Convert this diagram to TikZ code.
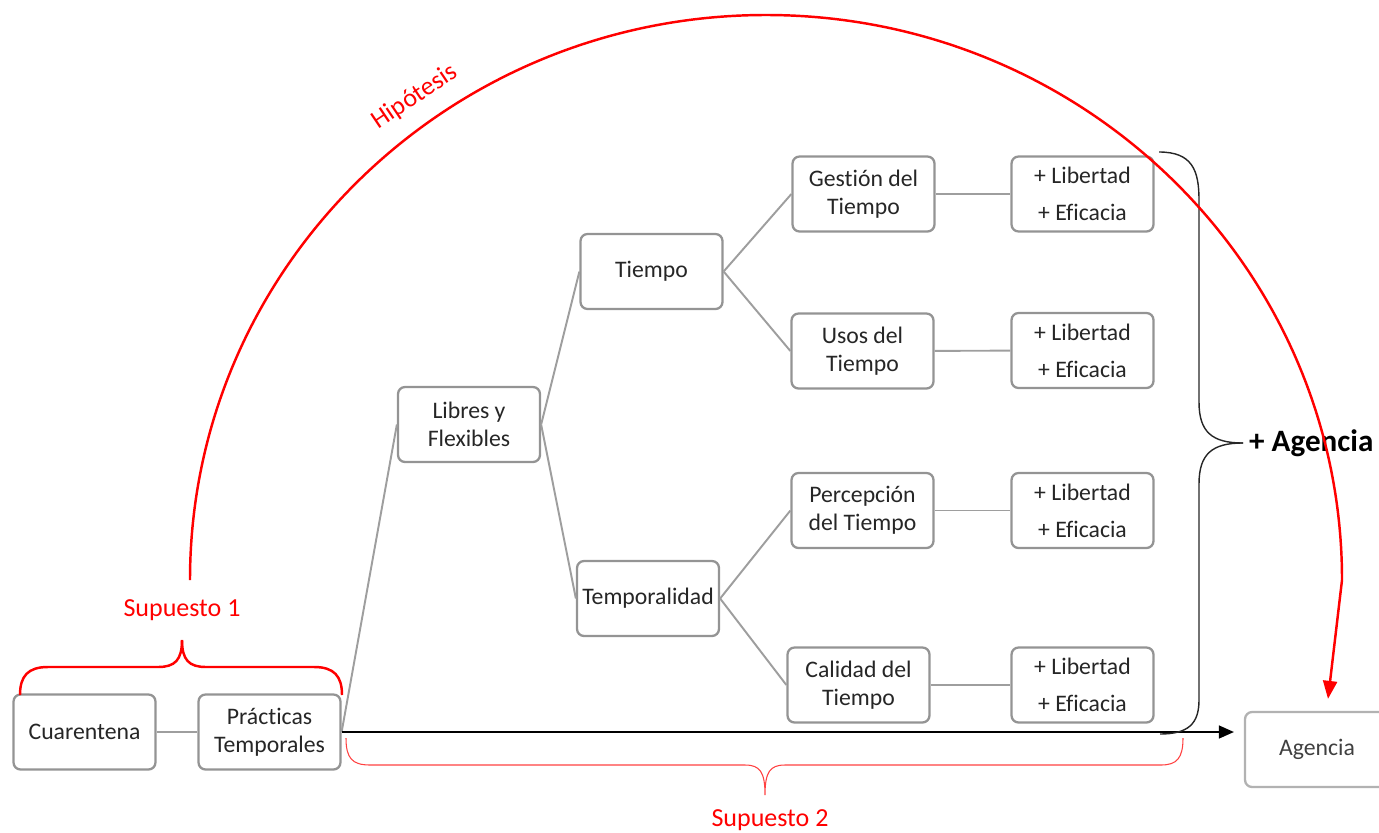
\documentclass[tikz,border=0pt]{standalone}
\usepackage{fontspec}
\setmainfont{Carlito}[Ligatures=NoCommon]
\usetikzlibrary{arrows.meta,calc}

\begin{document}
\begin{tikzpicture}[x=0.02cm,y=-0.02cm,
        box/.style={draw=black!42,line width=1.3pt,rounded corners=4pt,fill=white,
            minimum width=2.84cm,minimum height=1.5cm,align=center,inner sep=2pt,
            text=black!85,font=\fontsize{13.5}{16}\selectfont},
        link/.style={draw=black!38,line width=1.1pt},
        brace/.style={draw=black!85,line width=0.8pt},
        redtxt/.style={text=red,font=\fontsize{14.8}{17}\selectfont}]

    \useasboundingbox (0,0) rectangle (1379,832);

    \node[box] (cuar) at (84.5,732) {Cuarentena};
    \node[box] (prac) at (269.5,732) {Prácticas\\Temporales};
    \node[box] (libres) at (469,424.5) {Libres y\\Flexibles};
    \node[box] (tiempo) at (651.5,271.5) {Tiempo};
    \node[box] (temp) at (648,598.5) {Temporalidad};

    \node[box] (gest) at (863.5,194) {Gestión del\\Tiempo};
    \node[box] (usos) at (862.5,351) {Usos del\\Tiempo};
    \node[box] (perc) at (862.5,510.5) {Percepción\\del Tiempo};
    \node[box] (cal) at (858.5,685) {Calidad del\\Tiempo};

    \node[box] (lib1) at (1082.5,194) {+ Libertad\\[5pt]+ Eficacia};
    \node[box] (lib2) at (1082.5,350.5) {+ Libertad\\[5pt]+ Eficacia};
    \node[box] (lib3) at (1082.5,510.5) {+ Libertad\\[5pt]+ Eficacia};
    \node[box] (lib4) at (1082.5,685) {+ Libertad\\[5pt]+ Eficacia};

    \node[box,draw=black!30,minimum width=3.4cm] (agencia) at (1330,749.5) {};
    \node[text=black!75,font=\fontsize{13.5}{16}\selectfont] (agtxt) at (1317,749.5) {Agencia};
    \node[anchor=west,font=\bfseries\fontsize{17.7}{20}\selectfont] (masag) at (1243,443) {+ Agencia};

    \draw[link] (cuar) -- (prac);
    \draw[link] (prac.east) -- (libres.west);
    \draw[link] (libres.east) -- (tiempo.west);
    \draw[link] (libres.east) -- (temp.west);
    \draw[link] (tiempo.east) -- (gest.west);
    \draw[link] (tiempo.east) -- (usos.west);
    \draw[link] (temp.east) -- (perc.west);
    \draw[link] (temp.east) -- (cal.west);
    \draw[link] (gest) -- (lib1);
    \draw[link] (usos) -- (lib2);
    \draw[link] (perc) -- (lib3);
    \draw[link] (cal) -- (lib4);

    \draw[black,line width=0.8pt,-{Triangle[length=0.3cm,width=0.26cm]},shorten >=0.2cm]
        (prac.east) -- (prac.east -| agencia.west);

    \coordinate (bt) at (1159,152);
    \coordinate (bb) at (1160,734);
    \draw[brace] (bt) .. controls (1192,152) and (1199,170) .. (1199,200) -- (1199,402)
        .. controls (1199,432) and (1212,443) .. (masag.west);
    \draw[brace] (masag.west) .. controls (1212,443) and (1199,454) .. (1199,484) -- (1199,700)
        .. controls (1199,724) and (1188,734) .. (bb);

    \node[redtxt] (sup1) at (182,610) {Supuesto 1};
    \draw[red,line width=1.4pt] (20,695) .. controls (20,676) and (28,667) .. (48,667) -- (158,667)
        .. controls (175,667) and (182,660) .. (182,640);
    \draw[red,line width=1.4pt] (182,640) .. controls (182,660) and (189,667) .. (206,667) -- (314,667)
        .. controls (334,667) and (342,676) .. (342,695);

    \coordinate (hstart) at (190,580);
    \draw[red,line width=1.4pt,-{Triangle[length=0.36cm,width=0.28cm]}]
        (hstart) arc[start angle=180,end angle=360,x radius=576,y radius=565]
        -- ($(agencia.north)+(-2,-12)$);
    \node[redtxt,rotate=34] (hip) at (415,97) {Hipótesis};

    \coordinate (s2l) at (346,738);
    \coordinate (s2r) at (1183,738);
    \draw[red!75,line width=0.6pt] (s2l) .. controls (346,758) and (352,765) .. (370,765) -- (745,765)
        .. controls (760,765) and (765,772) .. (765,795)
        .. controls (765,772) and (770,765) .. (785,765) -- (1161,765)
        .. controls (1177,765) and (1183,758) .. (s2r);
    \node[redtxt] (sup2) at (770,820) {Supuesto 2};

\end{tikzpicture}
\end{document}
